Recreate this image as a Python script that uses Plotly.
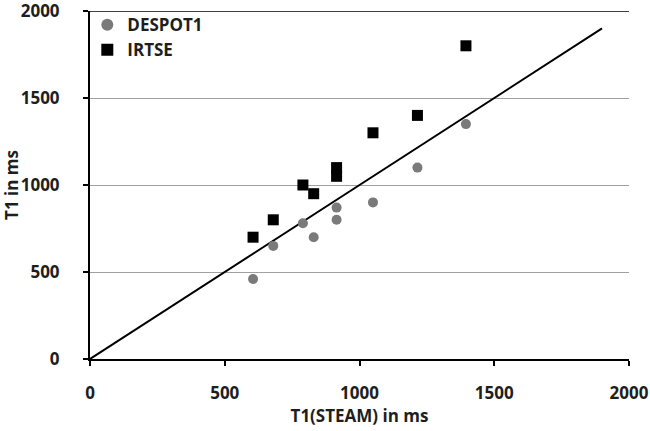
import plotly.graph_objects as go

steam = [605, 680, 790, 830, 915, 915, 1050, 1215, 1395]
despot1 = [460, 650, 780, 700, 800, 870, 900, 1100, 1350]
irtse = [700, 800, 1000, 950, 1050, 1100, 1300, 1400, 1800]
identity = [0, 1900]
ticks = [0, 500, 1000, 1500, 2000]

font_family = "Open Sans, Liberation Sans, sans-serif"
text_color = "#1e1e1e"
fs = 17

fig = go.Figure()
fig.add_trace(go.Scatter(x=identity, y=identity, mode="lines",
                         line=dict(color="black", width=2), showlegend=False))
fig.add_trace(go.Scatter(x=steam, y=despot1, mode="markers", name="DESPOT1",
                         marker=dict(symbol="circle", size=10, color="#7a7a7a")))
fig.add_trace(go.Scatter(x=steam, y=irtse, mode="markers", name="IRTSE",
                         marker=dict(symbol="square", size=11, color="black")))

fig.add_shape(type="line", xref="paper", yref="y", x0=0, x1=1, y0=2000, y1=2000,
              line=dict(color="black", width=1.5))

fig.update_layout(
    width=650, height=431,
    margin=dict(l=90, r=21, t=7, b=72),
    plot_bgcolor="white", paper_bgcolor="white",
    font=dict(family=font_family, size=fs, color=text_color),
    legend=dict(x=-0.005, y=1.011, xanchor="left", yanchor="top",
                bgcolor="rgba(0,0,0,0)", font=dict(size=fs, color=text_color, weight="bold"),
                itemsizing="constant", tracegroupgap=0),
    xaxis=dict(range=[0, 2000], tickvals=ticks, showgrid=False, automargin=False,
               showline=True, linecolor="black", linewidth=2,
               ticks="outside", ticklen=5, tickwidth=2, tickcolor="black",
               ticklabelstandoff=13, ticklabeloverflow="allow",
               tickfont=dict(size=fs, weight="bold"),
               title=dict(text="T1(STEAM) in ms", font=dict(size=fs, weight="bold"), standoff=4),
               zeroline=False),
    yaxis=dict(range=[0, 2000], tickvals=ticks, showgrid=True, automargin=False,
               gridcolor="#a0a0a0", gridwidth=1,
               showline=True, linecolor="black", linewidth=2,
               ticks="outside", ticklen=5, tickwidth=2, tickcolor="black",
               ticklabelstandoff=20, ticklabeloverflow="allow",
               tickfont=dict(size=fs, weight="bold"),
               title=dict(text="T1 in ms", font=dict(size=fs, weight="bold"), standoff=5),
               zeroline=False),
)

fig.write_html("out.html", config={"displayModeBar": False},
               post_script="document.body.style.margin='0';")
